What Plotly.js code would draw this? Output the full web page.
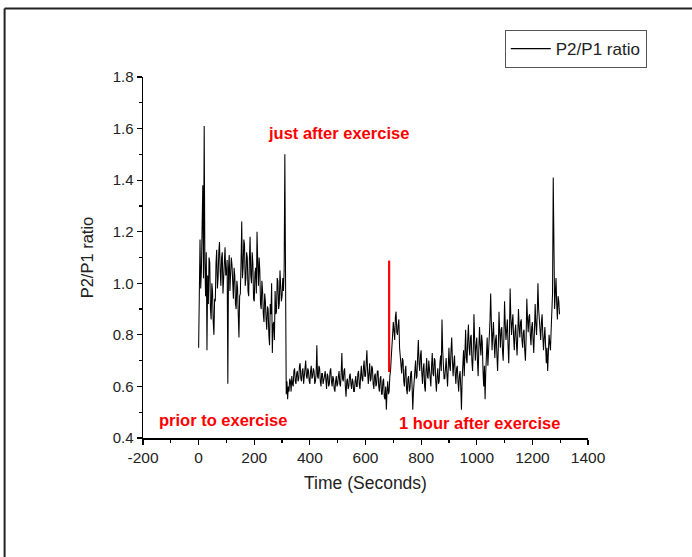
<!DOCTYPE html>
<html>
<head>
<meta charset="utf-8">
<script src="https://cdn.plot.ly/plotly-3.0.1.min.js"></script>
<style>
html,body{margin:0;padding:0;background:#fff;}
#chart{width:692px;height:557px;}
</style>
</head>
<body>
<div id="chart"></div>
<script>
// Sampling of the recorded series (seconds)
const startTime = 0;
const stepTime = 2.5;

// P2/P1 ratio, one value every 2.5 s (20 values per 50 s row)
const ratio = [
  0.75,1.10,1.17,0.98,1.05,1.22,1.38,1.02,1.61,1.08,0.95,1.12,0.74,1.03,0.92,1.10,1.08,0.90,0.86,1.00,
  0.97,0.85,0.80,0.94,0.93,1.08,1.13,0.98,1.02,1.12,1.16,1.05,0.99,1.10,1.12,0.96,1.05,1.14,1.14,1.03,
  1.04,1.09,0.61,1.06,1.11,0.97,1.02,1.10,1.07,0.99,0.94,1.06,1.03,0.92,0.90,1.01,0.98,0.88,0.79,0.95,
  0.96,1.08,1.24,1.02,1.06,1.17,1.15,0.99,1.02,1.12,1.10,0.97,0.95,1.09,1.18,1.03,1.00,1.12,1.08,0.94,
  0.93,1.04,1.06,0.96,1.20,1.08,0.99,1.10,1.05,0.92,0.90,1.01,0.97,0.88,0.85,0.96,0.93,0.86,0.82,0.91,
  0.90,0.80,0.76,0.92,0.88,1.00,0.73,0.84,0.85,0.78,0.97,0.88,0.89,1.02,1.01,0.90,0.92,1.05,0.99,0.93,
  0.95,1.02,0.97,1.05,1.50,0.59,0.57,0.62,0.55,0.60,0.58,0.63,0.62,0.58,0.64,0.61,0.60,0.66,0.67,0.62,
  0.61,0.65,0.66,0.62,0.63,0.68,0.69,0.63,0.62,0.66,0.67,0.61,0.64,0.69,0.70,0.64,0.63,0.67,0.66,0.62,
  0.61,0.66,0.68,0.63,0.64,0.67,0.66,0.61,0.62,0.65,0.76,0.64,0.63,0.68,0.67,0.62,0.60,0.65,0.65,0.61,
  0.62,0.64,0.66,0.60,0.59,0.65,0.64,0.60,0.61,0.66,0.67,0.62,0.60,0.64,0.63,0.59,0.58,0.62,0.64,0.60,
  0.61,0.64,0.66,0.61,0.60,0.65,0.73,0.63,0.62,0.66,0.67,0.60,0.56,0.62,0.63,0.59,0.60,0.64,0.65,0.61,
  0.59,0.63,0.62,0.58,0.58,0.62,0.64,0.60,0.60,0.65,0.66,0.61,0.59,0.64,0.68,0.63,0.62,0.67,0.70,0.64,
  0.64,0.69,0.74,0.66,0.61,0.65,0.69,0.62,0.63,0.68,0.67,0.61,0.59,0.64,0.65,0.60,0.61,0.66,0.66,0.60,
  0.58,0.63,0.64,0.57,0.57,0.62,0.63,0.56,0.55,0.60,0.51,0.58,0.62,0.57,0.58,0.64,0.66,0.71,0.74,0.80,
  0.85,0.79,0.78,0.87,0.89,0.81,0.80,0.84,0.86,0.75,0.72,0.66,0.65,0.71,0.70,0.62,0.60,0.66,0.68,0.59,
  0.57,0.63,0.64,0.58,0.59,0.65,0.66,0.60,0.51,0.58,0.62,0.68,0.70,0.63,0.64,0.72,0.78,0.69,0.66,0.72,
  0.74,0.65,0.61,0.67,0.69,0.60,0.58,0.66,0.71,0.64,0.63,0.70,0.67,0.61,0.60,0.68,0.73,0.65,0.64,0.71,
  0.70,0.62,0.58,0.64,0.67,0.61,0.62,0.69,0.72,0.66,0.86,0.74,0.68,0.63,0.63,0.70,0.71,0.65,0.60,0.67,
  0.75,0.68,0.66,0.74,0.79,0.70,0.64,0.69,0.72,0.65,0.61,0.67,0.68,0.62,0.58,0.64,0.66,0.60,0.51,0.63,
  0.70,0.74,0.64,0.76,0.82,0.71,0.69,0.78,0.84,0.75,0.72,0.79,0.80,0.70,0.66,0.74,0.88,0.78,0.70,0.76,
  0.79,0.70,0.64,0.75,0.83,0.76,0.72,0.80,0.77,0.66,0.60,0.68,0.55,0.66,0.74,0.79,0.68,0.73,0.81,0.85,
  0.96,0.82,0.74,0.80,0.85,0.77,0.71,0.78,0.80,0.72,0.66,0.75,0.89,0.81,0.75,0.82,0.83,0.74,0.70,0.79,
  0.93,0.84,0.78,0.82,0.86,0.76,0.69,0.80,0.98,0.87,0.80,0.85,0.88,0.79,0.74,0.81,0.84,0.77,0.72,0.80,
  0.90,0.83,0.79,0.85,0.86,0.78,0.75,0.81,0.82,0.74,0.70,0.79,0.94,0.86,0.81,0.87,0.88,0.80,0.76,0.83,
  0.85,0.78,0.73,0.82,0.92,0.84,0.80,0.88,1.00,0.90,0.84,0.79,0.78,0.85,0.88,0.80,0.74,0.79,0.83,0.76,
  0.69,0.75,0.66,0.73,0.80,0.77,0.74,0.82,0.94,0.96,1.41,1.00,0.90,0.96,1.02,0.92,0.86,0.95,0.93,0.88
];

// Red marker line (exercise time point)
const markerTime = [685, 685];
const markerRatio = [0.656, 1.088];

// Tick labels
const xTickVals = [-200, 0, 200, 400, 600, 800, 1000, 1200, 1400];
const xTickText = ["-200", "0", "200", "400", "600", "800", "1000", "1200", "1400"];
const yTickVals = [0.4, 0.6, 0.8, 1.0, 1.2, 1.4, 1.6, 1.8];
const yTickText = ["0.4", "0.6", "0.8", "1.0", "1.2", "1.4", "1.6", "1.8"];

// Annotation texts and anchor positions (data units)
const noteText = ["just after exercise", "prior to exercise", "1 hour after exercise"];
const noteX = [502, 88, 1009];
const noteY = [1.581, 0.469, 0.457];

const traces = [
  {
    type: 'scatter', mode: 'lines', name: 'P2/P1 ratio',
    x0: startTime, dx: stepTime, y: ratio,
    line: {color: '#000000', width: 1.05}
  },
  {
    type: 'scatter', mode: 'lines', showlegend: false, hoverinfo: 'skip',
    x: markerTime, y: markerRatio,
    line: {color: '#ff0000', width: 2.2}
  }
];

const annotations = noteText.map((t, i) => ({
  x: noteX[i], y: noteY[i], xref: 'x', yref: 'y', text: '<b>' + t + '</b>',
  showarrow: false, font: {family: 'Liberation Sans, Arial, sans-serif', size: 16.5, color: '#ff0000'}
}));

const layout = {
  width: 692, height: 557,
  margin: {l: 143, r: 104, t: 77, b: 119},
  paper_bgcolor: '#ffffff', plot_bgcolor: '#ffffff',
  font: {family: 'Liberation Sans, Arial, sans-serif', size: 14, color: '#222222'},
  showlegend: true,
  legend: {
    x: 0.813, y: 1.13, xanchor: 'left', yanchor: 'top',
    bordercolor: '#555555', borderwidth: 1, bgcolor: '#ffffff',
    font: {size: 17, color: '#222222'}, itemwidth: 40, tracegroupgap: 0
  },
  xaxis: {
    range: [-200, 1400], tickmode: 'array', tickvals: xTickVals, ticktext: xTickText,
    showgrid: false, zeroline: false,
    showline: true, linecolor: '#000000', linewidth: 1.5,
    ticks: 'outside', ticklen: 5, tickwidth: 1.2, tickcolor: '#000000',
    minor: {ticks: 'outside', ticklen: 3, dtick: 100, tick0: -200, tickcolor: '#000000', showgrid: false},
    tickfont: {size: 15.5, color: '#222222'},
    title: {text: 'Time (Seconds)', font: {size: 17.5, color: '#222222'}, standoff: 11}
  },
  yaxis: {
    range: [0.4, 1.8], tickmode: 'array', tickvals: yTickVals, ticktext: yTickText,
    showgrid: false, zeroline: false,
    showline: true, linecolor: '#000000', linewidth: 1.5,
    ticks: 'outside', ticklen: 5, tickwidth: 1.2, tickcolor: '#000000',
    minor: {ticks: 'outside', ticklen: 3, dtick: 0.1, tick0: 0.4, tickcolor: '#000000', showgrid: false},
    tickfont: {size: 15, color: '#222222'},
    title: {text: 'P2/P1 ratio', font: {size: 16.5, color: '#222222'}, standoff: 15}
  },
  annotations: annotations,
  shapes: [
    {type: 'line', xref: 'paper', yref: 'paper', x0: -0.311, x1: -0.311, y0: 1.19, y1: -0.34,
     line: {color: '#222222', width: 2}},
    {type: 'line', xref: 'paper', yref: 'paper', x0: -0.311, x1: 1.25, y0: 1.19, y1: 1.19,
     line: {color: '#222222', width: 2}}
  ]
};

Plotly.newPlot('chart', traces, layout, {displayModeBar: false, staticPlot: true});
</script>
</body>
</html>
